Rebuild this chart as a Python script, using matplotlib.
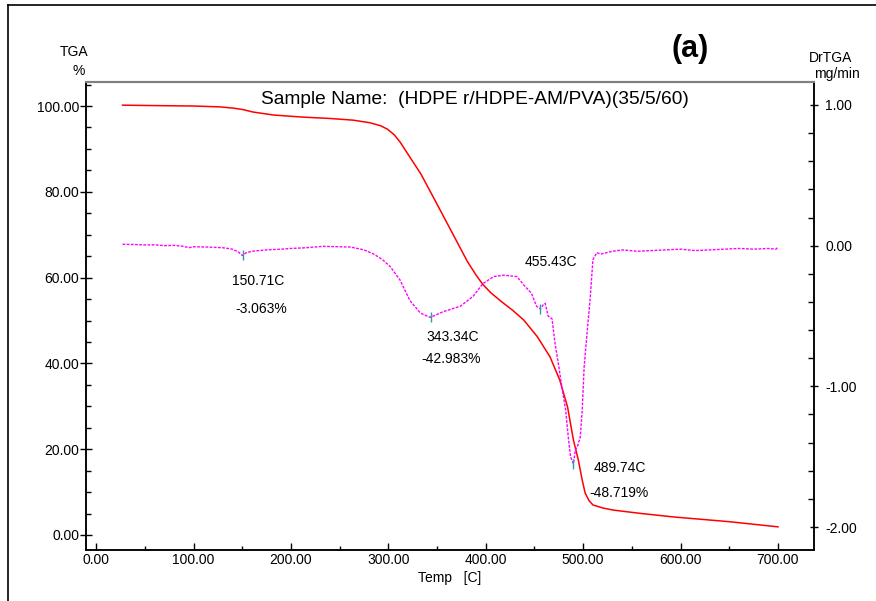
import matplotlib
matplotlib.use("Agg")
import matplotlib.pyplot as plt
from matplotlib.lines import Line2D
from matplotlib.ticker import MultipleLocator, FormatStrFormatter

plt.rcParams['font.family'] = ['Liberation Sans', 'DejaVu Sans']

# ---- data ----
tga_temp = [27, 60, 100, 127, 141, 150, 161, 182, 213, 240, 264, 281, 292, 299, 306,
            312, 322, 333, 346, 364, 381, 390, 397, 405, 415, 428, 439, 453, 466, 476,
            484, 490, 495, 499, 502, 506, 510, 520, 531, 560, 593, 650, 700]
tga_pct = [100.2, 100.1, 100.0, 99.8, 99.5, 99.2, 98.6, 97.9, 97.4, 97.1, 96.7, 96.1,
           95.4, 94.6, 93.3, 91.6, 88.1, 84.3, 78.8, 71.1, 63.8, 60.6, 58.4, 56.5, 54.6,
           52.3, 50.1, 46.2, 41.5, 36.1, 29.8, 22.1, 17.5, 12.8, 9.8, 8.0, 7.0, 6.3,
           5.8, 5.0, 4.2, 3.1, 1.9]

dtg_temp = [27, 40, 50, 60, 70, 80, 90, 95, 100, 115, 130, 140, 146, 150, 154, 160,
            175, 190, 200, 215, 233, 250, 261, 275, 285, 294, 302, 312, 322, 333, 343,
            356, 374, 387, 397, 408, 418, 432, 439, 447, 452, 456, 459, 461, 464, 468,
            471, 475, 478, 482, 485, 487, 490, 492, 494, 497, 499, 501, 504, 507, 510,
            514, 518, 521, 530, 541, 555, 570, 585, 600, 615, 630, 645, 660, 675, 690,
            698, 700]
dtg_val = [0.01, 0.008, 0.005, 0.006, 0.0, 0.002, -0.005, -0.015, -0.008, -0.01,
           -0.015, -0.025, -0.045, -0.07, -0.05, -0.04, -0.03, -0.025, -0.02, -0.015,
           -0.005, -0.008, -0.01, -0.03, -0.06, -0.1, -0.15, -0.245, -0.39, -0.48,
           -0.51, -0.47, -0.43, -0.36, -0.27, -0.22, -0.21, -0.22, -0.28, -0.34, -0.43,
           -0.45, -0.42, -0.41, -0.5, -0.52, -0.69, -0.86, -1.0, -1.17, -1.38, -1.5,
           -1.55, -1.45, -1.43, -1.36, -1.17, -0.86, -0.62, -0.39, -0.1, -0.05, -0.06,
           -0.055, -0.04, -0.03, -0.04, -0.035, -0.03, -0.025, -0.035, -0.03, -0.025,
           -0.02, -0.025, -0.02, -0.025, -0.01]

peak_temp = [150.71, 343.34, 455.43, 489.74]
peak_dtg = [-0.07, -0.51, -0.45, -1.55]

x_ticks = [0, 100, 200, 300, 400, 500, 600, 700]
left_ticks = [0, 20, 40, 60, 80, 100]
right_ticks = [-2, -1, 0, 1]

title_text = "Sample Name:  (HDPE r/HDPE-AM/PVA)(35/5/60)"
annotations = [("150.71C", 258, 281), ("-3.063%", 261, 309),
               ("343.34C", 453, 337), ("-42.983%", 451, 359),
               ("455.43C", 551, 262),
               ("489.74C", 620, 468), ("-48.719%", 619, 493)]

# ---- figure ----
W, H = 876, 601
fig = plt.figure(figsize=(W / 100, H / 100), dpi=100)

def fx(px):
    return px / W

def fy(py):
    return 1 - py / H

# outer frame (top and left)
fig.add_artist(Line2D([fx(8), fx(876)], [fy(5), fy(5)], color='black', lw=1.2))
fig.add_artist(Line2D([fx(8), fx(8)], [fy(5), fy(601)], color='black', lw=1.2))

ax = fig.add_axes([fx(86), fy(550), fx(814) - fx(86), fy(82) - fy(550)])
ax2 = ax.twinx()

ax.plot(tga_temp, tga_pct, color='#ff0000', lw=1.1, zorder=3)
ax2.plot(dtg_temp, dtg_val, color='#ff00ff', lw=1.0, linestyle=(0, (2, 1)), zorder=3)
ax2.plot(peak_temp, peak_dtg, linestyle='none', marker='|', markersize=7,
         markeredgewidth=1.0, color='#2aa0a0', zorder=4)

ax.set_xlim(-10.5, 737)
ax.set_ylim(-3.5, 105.6)
ax2.set_ylim(-2.163, 1.163)

ax.set_xticks(x_ticks)
ax.xaxis.set_minor_locator(MultipleLocator(50))
ax.set_yticks(left_ticks)
ax.yaxis.set_minor_locator(MultipleLocator(5))
ax2.set_yticks(right_ticks)
ax2.yaxis.set_minor_locator(MultipleLocator(0.2))
ax.xaxis.set_major_formatter(FormatStrFormatter('%.2f'))
ax.yaxis.set_major_formatter(FormatStrFormatter('%.2f'))
ax2.yaxis.set_major_formatter(FormatStrFormatter('%.2f'))

ax.tick_params(axis='x', which='major', direction='in', length=5, width=1,
               labelsize=10, pad=2)
ax.tick_params(axis='x', which='minor', direction='in', length=3, width=1)
ax.tick_params(axis='y', which='major', direction='inout', length=8, width=1,
               labelsize=10, pad=1)
ax.tick_params(axis='y', which='minor', direction='in', length=3.5, width=1)
ax2.tick_params(axis='y', which='major', direction='inout', length=6, width=1,
                labelsize=10, pad=5)
ax2.tick_params(axis='y', which='minor', direction='in', length=4, width=1)

for a in (ax, ax2):
    for s in ('left', 'bottom', 'right'):
        a.spines[s].set_linewidth(1.1)
        a.spines[s].set_color('black')
    a.spines['top'].set_color('#808080')
    a.spines['top'].set_linewidth(1.5)

# labels
fig.text(fx(74), fy(52), "TGA", ha='center', va='center', fontsize=10)
fig.text(fx(79), fy(71), "%", ha='center', va='center', fontsize=10)
fig.text(fx(831), fy(58), "DrTGA", ha='center', va='center', fontsize=10)
fig.text(fx(837), fy(74), "mg/min", ha='center', va='center', fontsize=10)
fig.text(fx(690), fy(49), "(a)", ha='center', va='center', fontsize=22,
         fontweight='bold')
fig.text(fx(475), fy(100), title_text, ha='center', va='center', fontsize=13.8)
fig.text(fx(450), fy(578), "Temp   [C]", ha='center', va='center', fontsize=10)

for txt, px, py in annotations:
    fig.text(fx(px), fy(py), txt, ha='center', va='center', fontsize=10)

fig.savefig("out.png", dpi=100)
